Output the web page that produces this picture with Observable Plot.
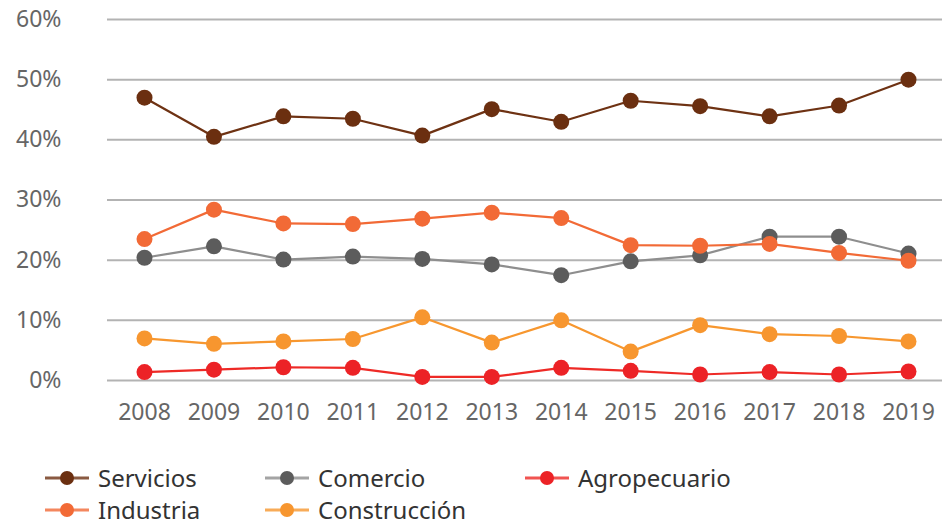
<!DOCTYPE html>
<html><head><meta charset="utf-8">
<script src="https://cdn.jsdelivr.net/npm/d3@7"></script>
<script src="https://cdn.jsdelivr.net/npm/@observablehq/plot@0.6"></script>
<style>
body{margin:0;background:#fff;font-family:"Noto Sans",sans-serif;}
#chart{width:942px;height:440px;}
#legend{position:relative;width:942px;height:86px;}
.item{position:absolute;display:flex;align-items:center;font-size:24px;color:#333;line-height:1.2;}
.item svg{margin-right:9px;}
</style></head><body>
<div id="chart"></div>
<div id="legend"></div>
<script>
const years = [2008, 2009, 2010, 2011, 2012, 2013, 2014, 2015, 2016, 2017, 2018, 2019];
const servicios    = [47.0, 40.5, 43.9, 43.5, 40.7, 45.1, 43.0, 46.5, 45.6, 43.9, 45.7, 50.0];
const comercio     = [20.4, 22.3, 20.1, 20.6, 20.2, 19.3, 17.5, 19.8, 20.8, 23.9, 23.9, 21.1];
const industria    = [23.5, 28.4, 26.1, 26.0, 26.9, 27.9, 27.0, 22.5, 22.4, 22.7, 21.2, 19.9];
const construccion = [7.0, 6.1, 6.5, 6.9, 10.5, 6.3, 10.0, 4.8, 9.2, 7.7, 7.4, 6.5];
const agropecuario = [1.4, 1.8, 2.2, 2.1, 0.6, 0.6, 2.1, 1.6, 1.0, 1.4, 1.0, 1.5];
const yTicks = [0, 10, 20, 30, 40, 50, 60];

const series = [
  {name: "Servicios", values: servicios, line: "#6e3213", dot: "#6b2f10"},
  {name: "Comercio", values: comercio, line: "#8e8e8e", dot: "#5c5c5c"},
  {name: "Industria", values: industria, line: "#f26a36", dot: "#f26a36"},
  {name: "Construcción", values: construccion, line: "#f7972f", dot: "#f7962f"},
  {name: "Agropecuario", values: agropecuario, line: "#ee2a26", dot: "#ec2226"}
];
const rows = series.flatMap(s => years.map((yr, i) => ({serie: s.name, year: yr, value: s.values[i]})));

const marks = [
  Plot.ruleY(yTicks, {stroke: "#b3b3b3", strokeWidth: 2})
];
for (const s of series) {
  const d = rows.filter(r => r.serie === s.name);
  marks.push(Plot.line(d, {x: "year", y: "value", stroke: s.line, strokeWidth: 2.2}));
  marks.push(Plot.dot(d, {x: "year", y: "value", fill: s.dot, r: 8}));
}
marks.push(Plot.axisX({ticks: years, tickSize: 0, tickPadding: 23, tickFormat: d => String(d), fontSize: 23, label: null}));
marks.push(Plot.axisY({ticks: yTicks, tickSize: 0, tickPadding: 46, tickFormat: d => d + "%", fontSize: 23, label: null}));

const chart = Plot.plot({
  width: 942, height: 440,
  marginLeft: 107, marginRight: 0, marginTop: 19, marginBottom: 60,
  style: {fontFamily: "Noto Sans", color: "#666", background: "#fff"},
  x: {domain: [2008, 2019], range: [144, 908], label: null},
  y: {domain: [0, 60], label: null},
  marks
});
document.getElementById("chart").appendChild(chart);

const legendPos = {
  "Servicios": [45, 38], "Comercio": [265, 38], "Agropecuario": [525, 38],
  "Industria": [45, 70], "Construcción": [265, 70]
};
const legend = document.getElementById("legend");
for (const s of series) {
  const [lx, ly] = legendPos[s.name];
  const div = document.createElement("div");
  div.className = "item";
  div.style.left = lx + "px";
  div.style.top = (ly - 15) + "px";
  div.style.height = "30px";
  div.innerHTML = `<svg width="44" height="24"><line x1="0" x2="44" y1="12" y2="12" stroke="${s.line}" stroke-width="3" opacity="0.8"/><circle cx="22" cy="12" r="7" fill="${s.dot}"/></svg><span>${s.name}</span>`;
  legend.appendChild(div);
}
</script>
</body></html>
